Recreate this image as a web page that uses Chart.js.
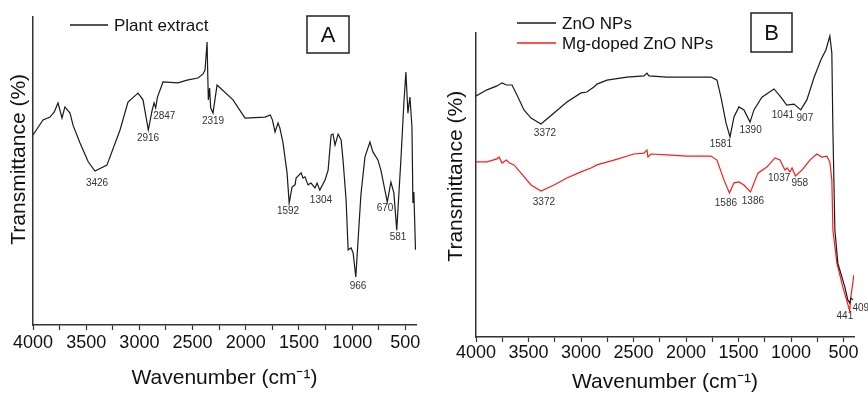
<!DOCTYPE html>
<html>
<head>
<meta charset="utf-8">
<script src="https://cdn.jsdelivr.net/npm/chart.js@4/dist/chart.umd.min.js"></script>
<style>
  body { margin: 0; background: #fff; }
  canvas { position: absolute; top: 0; }
  #chartA { left: 0; }
  #chartB { left: 434px; }
</style>
</head>
<body>
<canvas id="chartA" width="434" height="393"></canvas>
<canvas id="chartB" width="434" height="393"></canvas>
<script>
// Axis ticks (wavenumber, cm-1)
const majorTicks = [4000, 3500, 3000, 2500, 2000, 1500, 1000, 500];
const minorTicks = [3750, 3250, 2750, 2250, 1750, 1250, 750];

// Panel A - plant extract spectrum
const wnPlant = [4000,3906,3840,3800,3765,3727,3700,3652,3624,3558,3480,3417,3305,3182,3107,3013,2966,2916,2880,2862,2847,2830,2778,2637,2552,2449,2402,2383,2364,2352,2340,2330,2308,2270,2120,2007,1819,1770,1750,1725,1697,1680,1650,1612,1592,1565,1537,1527,1480,1462,1443,1415,1387,1349,1330,1304,1255,1226,1198,1180,1161,1132,1104,1086,1057,1038,1010,991,966,918,880,833,805,758,730,670,636,608,581,542,514,495,476,457,438,429,420,405];
const tPlant = [61.7,66.6,67.5,69.2,72.1,67.2,70.8,68.8,64.9,59.1,52.9,50.0,51.9,63.3,72.4,75.3,73.1,63.3,69.8,72.1,70.5,74.0,78.9,78.6,79.5,80.2,81.5,82.8,91.9,73.1,76.9,70.5,68.8,77.9,73.1,67.2,67.5,68.2,66.6,62.7,65.6,64.0,59.1,49.4,39.6,44.8,45.5,47.7,49.4,47.7,48.1,45.5,46.1,44.5,46.1,43.8,47.1,50.3,61.7,62.0,58.4,62.0,60.1,53.6,40.6,24.4,25.0,23.4,15.6,42.2,54.5,59.4,56.2,53.6,50.3,39.9,46.4,42.9,30.8,53.6,72.1,82.1,68.8,74.0,64.3,39.6,43.2,24.4];
const peakTextA = ['3426','2916','2847','2319','1592','1304','966','670','581'];
const peakXA = [3398,2919,2766,2308,1603,1293,945,691,569];
const peakYA = [46.1,60.7,67.9,66.2,37.0,40.6,12.7,38.0,28.6];

// Panel B - ZnO NPs (black) and Mg-doped ZnO NPs (red)
const wnZnO = [4000,3895,3800,3752,3710,3657,3619,3543,3476,3381,3257,3134,3000,2943,2915,2877,2848,2753,2562,2400,2372,2353,2182,1991,1762,1705,1667,1619,1581,1543,1496,1448,1390,1353,1277,1162,1096,1041,972,907,849,782,716,668,630,611,601,582,554,487,459,441,430,409];
const tZnO = [79.3,81.3,82.6,83.6,82.9,82.9,80.3,74.7,72.0,70.1,73.7,77.3,80.3,80.6,81.3,82.2,83.2,84.5,85.5,85.9,86.8,85.9,85.5,85.5,85.5,84.5,78.9,70.4,65.8,72.4,75.7,74.7,70.7,74.7,78.9,81.6,78.9,76.3,76.6,74.7,78.0,85.2,91.1,94.4,99.0,93.4,68.1,35.2,24.3,16.4,12.2,11.2,12.8,12.2];
const wnMg = [4000,3895,3800,3781,3752,3710,3681,3638,3571,3476,3381,3257,3134,3000,2905,2848,2686,2496,2400,2372,2362,2334,2182,1991,1762,1705,1638,1586,1543,1496,1448,1386,1315,1230,1153,1105,1058,1037,1010,990,958,896,820,754,706,658,630,611,601,563,506,441,430,401];
const tMg = [57.6,57.6,58.6,59.2,57.2,58.2,57.2,56.6,53.9,50.0,48.0,50.0,52.3,54.3,55.6,56.6,58.2,60.2,60.5,61.5,59.2,60.2,59.9,59.5,59.5,58.2,51.6,47.4,50.7,51.0,50.0,47.7,53.9,55.9,58.9,58.2,54.9,55.6,54.3,55.6,53.0,54.9,58.2,60.2,59.2,59.5,57.6,51.6,35.2,24.3,16.4,8.6,13.2,20.4];
const peakTextB = ['3372','1581','1390','1041','907','3372','1586','1386','1037','958','441','409'];
const peakXB = [3343,1668,1385,1077,868,3353,1620,1363,1113,916,487,335];
const peakYB = [67.1,63.5,68.0,73.0,72.0,44.4,44.1,44.7,52.2,50.6,6.7,9.5];

const FONT = '"Liberation Sans", Arial, sans-serif';
Chart.defaults.font.family = FONT;
Chart.defaults.color = '#111';

const allTicks = majorTicks.concat(minorTicks).sort((a, b) => a - b);

// peak labels, legend and panel letter drawn on top of the plot
const decor = {
  id: 'decor',
  afterDraw(chart, args, opts) {
    const ctx = chart.ctx;
    const xs = chart.scales.x, ys = chart.scales.y;
    ctx.save();
    ctx.textAlign = 'center';
    ctx.textBaseline = 'middle';
    ctx.fillStyle = '#333';
    ctx.font = '10px ' + FONT;
    opts.peakText.forEach((t, i) => {
      ctx.fillText(t, xs.getPixelForValue(opts.peakX[i]), ys.getPixelForValue(opts.peakY[i]));
    });

    // legend
    ctx.font = '17px ' + FONT;
    ctx.textAlign = 'left';
    opts.legend.forEach(item => {
      ctx.strokeStyle = item.color;
      ctx.lineWidth = 1.3;
      ctx.beginPath();
      ctx.moveTo(item.x0, item.y);
      ctx.lineTo(item.x1, item.y);
      ctx.stroke();
      ctx.fillStyle = '#111';
      ctx.fillText(item.text, item.x1 + 6, item.y + 1);
    });

    // panel letter in a box
    const b = opts.box;
    ctx.strokeStyle = '#222';
    ctx.lineWidth = 1.5;
    ctx.strokeRect(b.x, b.y, b.w, b.h);
    ctx.font = '22px ' + FONT;
    ctx.textAlign = 'center';
    ctx.fillStyle = '#111';
    ctx.fillText(b.text, b.x + b.w / 2, b.y + b.h / 2 + 1);
    ctx.restore();
  }
};

function makeScales(cfg) {
  return {
    x: {
      type: 'linear',
      min: 400,
      max: 4000,
      reverse: true,
      afterBuildTicks: scale => { scale.ticks = allTicks.map(v => ({ value: v })); },
      afterFit: scale => { scale.height = cfg.xHeight; },
      ticks: {
        autoSkip: false,
        maxRotation: 0,
        padding: cfg.tickPad,
        color: '#111',
        font: { size: 18 },
        callback: v => majorTicks.includes(v) ? String(v) : ''
      },
      grid: {
        display: true,
        drawOnChartArea: false,
        drawTicks: true,
        tickLength: 5,
        tickWidth: 1.2,
        tickColor: '#333'
      },
      border: { display: true, color: '#333', width: 1.5 },
      title: {
        display: true,
        text: 'Wavenumber (cm\u207B\u00B9)',
        color: '#111',
        font: { size: 21, lineHeight: 1 },
        padding: { top: 0, bottom: cfg.xTitlePad }
      }
    },
    y: {
      min: 0,
      max: 100,
      afterFit: scale => { scale.width = cfg.yWidth; },
      ticks: { display: false },
      grid: { display: false },
      border: { display: true, color: '#333', width: 1.5 },
      title: {
        display: true,
        text: cfg.yTitle,
        color: '#111',
        font: { size: 21, lineHeight: 1 },
        padding: { top: cfg.yTitlePad, bottom: 0 }
      }
    }
  };
}

function series(wn, t) {
  return wn.map((w, i) => ({ x: w, y: t[i] }));
}

new Chart(document.getElementById('chartA'), {
  type: 'line',
  data: {
    datasets: [{
      label: 'Plant extract',
      data: series(wnPlant, tPlant),
      borderColor: '#1a1a1a',
      borderWidth: 1.2,
      pointRadius: 0,
      tension: 0
    }]
  },
  options: {
    responsive: false,
    animation: false,
    devicePixelRatio: 1,
    layout: { padding: { top: 17, right: 18, bottom: 0, left: 0 } },
    scales: makeScales({ xHeight: 68, tickPad: 2, xTitlePad: 4.5, yWidth: 33, yTitlePad: 8.5, yTitle: '    Transmittance (%)' }),
    plugins: {
      legend: { display: false },
      tooltip: { enabled: false },
      decor: {
        peakText: peakTextA, peakX: peakXA, peakY: peakYA,
        legend: [{ text: 'Plant extract', color: '#1a1a1a', x0: 70, x1: 108, y: 25 }],
        box: { text: 'A', x: 307, y: 16, w: 42, h: 37 }
      }
    }
  },
  plugins: [decor]
});

new Chart(document.getElementById('chartB'), {
  type: 'line',
  data: {
    datasets: [{
      label: 'ZnO NPs',
      data: series(wnZnO, tZnO),
      borderColor: '#1a1a1a',
      borderWidth: 1.2,
      pointRadius: 0,
      tension: 0
    }, {
      label: 'Mg-doped ZnO NPs',
      data: series(wnMg, tMg),
      borderColor: '#ff1a1a',
      borderWidth: 1.2,
      pointRadius: 0,
      tension: 0
    }]
  },
  options: {
    responsive: false,
    animation: false,
    devicePixelRatio: 1,
    layout: { padding: { top: 33, right: 14, bottom: 0, left: 0 } },
    scales: makeScales({ xHeight: 56, tickPad: 0, xTitlePad: 0.5, yWidth: 42, yTitlePad: 11.5, yTitle: '   Transmittance (%)' }),
    plugins: {
      legend: { display: false },
      tooltip: { enabled: false },
      decor: {
        peakText: peakTextB, peakX: peakXB, peakY: peakYB,
        legend: [
          { text: 'ZnO NPs', color: '#1a1a1a', x0: 83, x1: 122, y: 23 },
          { text: 'Mg-doped ZnO NPs', color: '#ff1a1a', x0: 83, x1: 122, y: 43 }
        ],
        box: { text: 'B', x: 317, y: 13, w: 41, h: 39 }
      }
    }
  },
  plugins: [decor]
});
</script>
</body>
</html>
